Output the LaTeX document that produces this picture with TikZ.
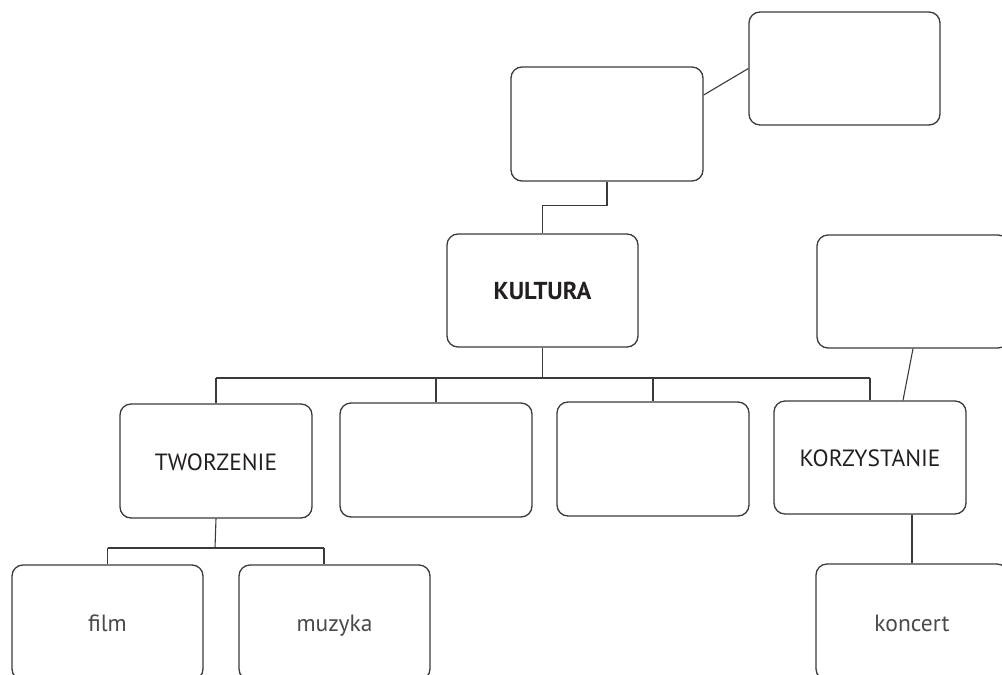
\documentclass[tikz,border=0pt]{standalone}
\usepackage{fontspec}
\setmainfont{PT Sans}
\definecolor{linegray}{HTML}{3A3A3A}
\definecolor{textdark}{HTML}{231F20}
\definecolor{textlight}{HTML}{4A4A4A}
\tikzset{
  box/.style={draw=linegray, line width=1.3pt, rounded corners=11pt, fill=white,
    minimum width=192pt, minimum height=114pt, inner sep=0pt, align=center,
    text height=18pt, text depth=0pt,
    font=\fontsize{23.5}{27}\selectfont, text=textdark},
  leaf/.style={box, text=textlight},
  link/.style={draw=linegray, line width=1.1pt}
}
\begin{document}
\begin{tikzpicture}[x=1pt,y=-1pt]
\useasboundingbox (0,0) rectangle (1002,675);
\clip (0,0) rectangle (1002,675);

% top level
\node[box] (A) at (607,124) {};
\node[box, minimum width=191pt, minimum height=113pt] (B) at (844.5,68.5) {};
\node[box, minimum width=191pt, minimum height=113pt,
      font=\fontsize{24.5}{28}\selectfont\bfseries] (K) at (542.5,290.5) {KULTURA};
\node[box, minimum width=192pt, minimum height=113pt] (C) at (913,291.5) {};

% second level
\node[box] (T) at (216,461) {TWORZENIE};
\node[box] (D) at (436,460) {};
\node[box] (E) at (653,459) {};
\node[box, minimum height=113pt] (KO) at (870,457.5) {KORZYSTANIE};

% leaves
\node[leaf, minimum width=191pt, minimum height=115pt] (film) at (107.5,622.5) {film};
\node[leaf, minimum width=191pt, minimum height=115pt] (muz) at (334.5,622.5) {muzyka};
\node[leaf, minimum height=116pt] (konc) at (912,622) {koncert};

% connectors
\coordinate (bus) at (543,378);
\coordinate (tbus) at (215,548);

\draw[link] ([yshift=29pt]A.east) -- (B.west);
\draw[link] (A.south) -- ++(0,24) -| (K.north);

\draw[link] (K.south) -- (K.south |- bus);
\draw[link] (T.north |- bus) -- (KO.north |- bus);
\draw[link] (T.north |- bus) -- (T.north);
\draw[link] (D.north |- bus) -- (D.north);
\draw[link] (E.north |- bus) -- (E.north);
\draw[link] (KO.north |- bus) -- (KO.north);

\draw[link] (C.south) -- ([xshift=33pt]KO.north);

\draw[link] (T.south) -- (tbus);
\draw[link] (film.north |- tbus) -- ([xshift=-10.5pt]muz.north |- tbus);
\draw[link] (film.north |- tbus) -- (film.north);
\draw[link] ([xshift=-10.5pt]muz.north |- tbus) -- ([xshift=-10.5pt]muz.north);

\draw[link] (konc.north |- KO.south) -- (konc.north);
\end{tikzpicture}
\end{document}
